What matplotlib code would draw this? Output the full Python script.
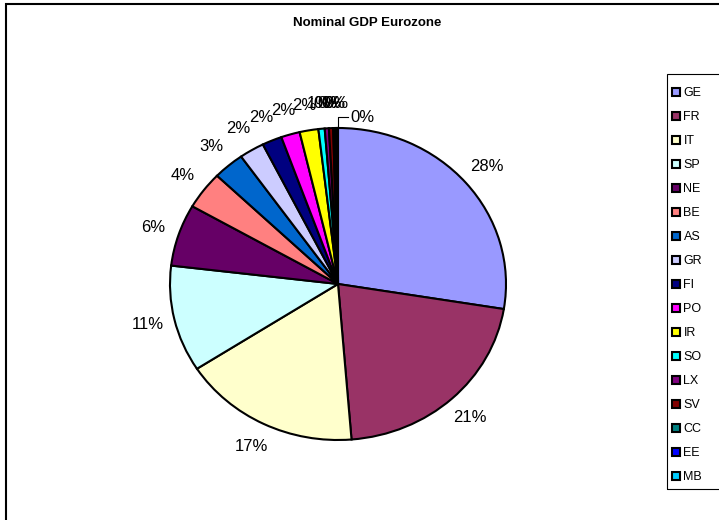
import matplotlib
matplotlib.use("Agg")
import matplotlib.pyplot as plt
from matplotlib.patches import Rectangle

plt.rcParams['font.family'] = ['Liberation Sans', 'DejaVu Sans']

# country codes and share of eurozone GDP (%)
countries = ['GE', 'FR', 'IT', 'SP', 'NE', 'BE', 'AS', 'GR', 'FI', 'PO',
             'IR', 'SO', 'LX', 'SV', 'CC', 'EE', 'MB']
shares = [27.5, 21.1, 17.1, 11.0, 6.4, 3.9, 3.0, 2.4, 1.9, 1.8,
          1.8, 0.6, 0.4, 0.4, 0.2, 0.2, 0.06]
# old Excel default series palette
colors = ['#9999FF', '#993366', '#FFFFCC', '#CCFFFF', '#660066', '#FF8080',
          '#0066CC', '#CCCCFF', '#000080', '#FF00FF', '#FFFF00', '#00FFFF',
          '#800080', '#800000', '#008080', '#0000FF', '#00CCFF']

W, H = 719, 520
fig = plt.figure(figsize=(W / 100, H / 100), dpi=100)

# chart area border (only left/top edges fall inside the picture)
fig.patches.append(Rectangle((6 / W, -0.05), 1.1, 1 - 4 / H + 0.05,
                             transform=fig.transFigure, fill=False,
                             edgecolor='black', linewidth=1.5))

fig.text(367 / W, 1 - 23 / H, 'Nominal GDP Eurozone', ha='center', va='center',
         fontsize=9.5, fontweight='bold')

# pie is slightly squashed like the Excel original
cx, cy, rx, ry = 338, 284, 168, 156
ax = fig.add_axes([(cx - rx) / W, (H - cy - ry) / H, 2 * rx / W, 2 * ry / H])
wedges, texts, autotexts = ax.pie(
    shares, colors=colors, startangle=90, counterclock=False,
    autopct='%.0f%%', pctdistance=1.16, normalize=True,
    wedgeprops=dict(edgecolor='black', linewidth=1.5),
    textprops=dict(fontsize=12))
ax.set_aspect('auto')
ax.set_xlim(-1, 1)
ax.set_ylim(-1, 1)
ax.axis('off')

# last label pulled out to the right with a leader line
last = autotexts[-1]
last.set_position((0.075, 1.07))
last.set_ha('left')
ax.plot([0, 0, 0.06], [1.0, 1.07, 1.07], color='black', linewidth=0.8,
        clip_on=False)

# legend box runs off the right edge in the original
fig.patches.append(Rectangle((667 / W, 1 - 489 / H), 0.2, (489 - 74) / H,
                             transform=fig.transFigure, fill=False,
                             edgecolor='black', linewidth=0.8))
leg = fig.legend(wedges, countries, loc='upper left',
                 bbox_to_anchor=(666 / W, 1 - 81 / H), borderaxespad=0,
                 fontsize=9, frameon=False,
                 handlelength=0.65, handleheight=0.65, handletextpad=0.25,
                 labelspacing=0.96, borderpad=0.5)

fig.savefig('out.png', dpi=100)
